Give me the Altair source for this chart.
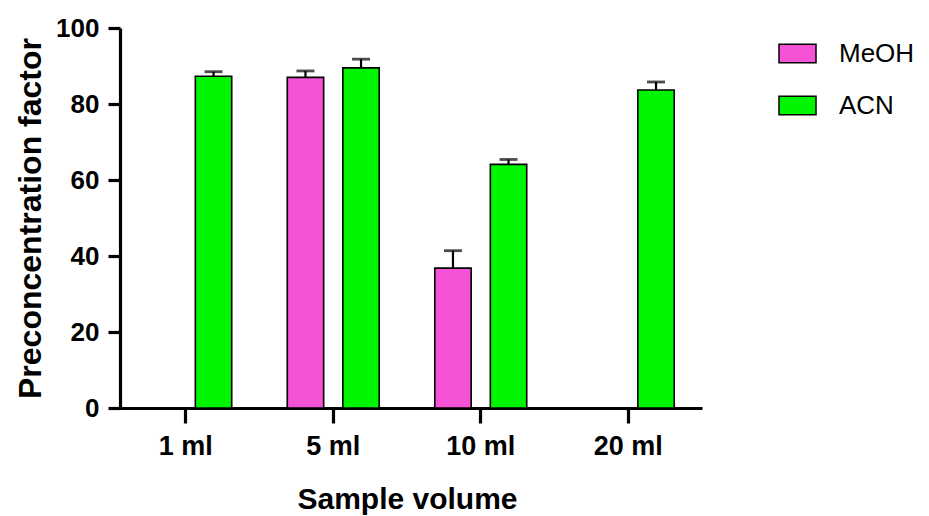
import altair as alt
import pandas as pd

volumes = ["1 ml", "5 ml", "10 ml", "20 ml"]
solvents = ["MeOH", "ACN"]
meoh_values = [None, 87.0, 36.8, None]
meoh_errors = [None, 1.7, 4.6, None]
acn_values = [87.3, 89.5, 64.1, 83.7]
acn_errors = [1.2, 2.3, 1.3, 2.1]
colors = ["#F652D6", "#00F500"]

rows = []
for v, m, me, a, ae in zip(volumes, meoh_values, meoh_errors, acn_values, acn_errors):
    if m is not None:
        rows.append({"Volume": v, "Solvent": "MeOH", "Value": m, "Upper": m + me})
    if a is not None:
        rows.append({"Volume": v, "Solvent": "ACN", "Value": a, "Upper": a + ae})
df = pd.DataFrame(rows)

FONT = "Liberation Sans"

x = alt.X("Volume:N", sort=volumes, scale=alt.Scale(domain=volumes, paddingInner=0, paddingOuter=0),
          axis=alt.Axis(title="Sample volume", labelAngle=0, labelAlign="center", labelBaseline="top",
                        domainWidth=3.2, tickWidth=3.2, tickSize=15,
                        domainColor="black", tickColor="black", labelColor="black", titleColor="black",
                        labelFont=FONT, labelFontSize=27, labelFontWeight="bold", labelPadding=10,
                        titleFont=FONT, titleFontSize=30, titleFontWeight="bold", titlePadding=25))
xo = alt.XOffset("Solvent:N", sort=solvents,
                 scale=alt.Scale(domain=solvents, paddingInner=0.345, paddingOuter=0.5))
y = alt.Y("Value:Q", scale=alt.Scale(domain=[0, 100], nice=False),
          axis=alt.Axis(title="Preconcentration factor", values=[0, 20, 40, 60, 80, 100], grid=False,
                        domainWidth=3.2, tickWidth=3.2, tickSize=12, offset=-8,
                        domainColor="black", tickColor="black", labelColor="black", titleColor="black",
                        labelFont=FONT, labelFontSize=26, labelFontWeight="bold", labelPadding=9,
                        titleFont=FONT, titleFontSize=32, titleFontWeight="bold", titlePadding=8))

color = alt.Color("Solvent:N", sort=solvents, scale=alt.Scale(domain=solvents, range=colors),
                  legend=alt.Legend(title=None, orient="none", legendX=666, legendY=6,
                                    symbolType="M-1,-0.5H1V0.5H-1Z", symbolSize=1369,
                                    symbolStrokeColor="black", symbolStrokeWidth=1.5,
                                    labelFont=FONT, labelFontSize=26, labelColor="black",
                                    labelOffset=22, rowPadding=19))

bars = alt.Chart(df).mark_bar(stroke="black", strokeWidth=1.6).encode(x=x, xOffset=xo, y=y, color=color)

err = alt.Chart(df).mark_rule(color="black", strokeWidth=2.2).encode(
    x=alt.X("Volume:N", sort=volumes), xOffset=alt.XOffset("Solvent:N", sort=solvents),
    y="Value:Q", y2="Upper:Q")
caps = alt.Chart(df).mark_tick(color="black", thickness=2.8, size=18, orient="horizontal").encode(
    x=alt.X("Volume:N", sort=volumes), xOffset=alt.XOffset("Solvent:N", sort=solvents),
    y="Upper:Q")

chart = alt.layer(err, caps, bars).properties(
    width=590, height=380,
    background="white",
    autosize=alt.AutoSizeParams(type="none"),
    padding={"left": 112, "top": 28, "right": 227, "bottom": 108},
).configure_view(strokeWidth=0, stroke=None)

chart.save("out.html", embed_options={"renderer": "svg", "actions": False})
